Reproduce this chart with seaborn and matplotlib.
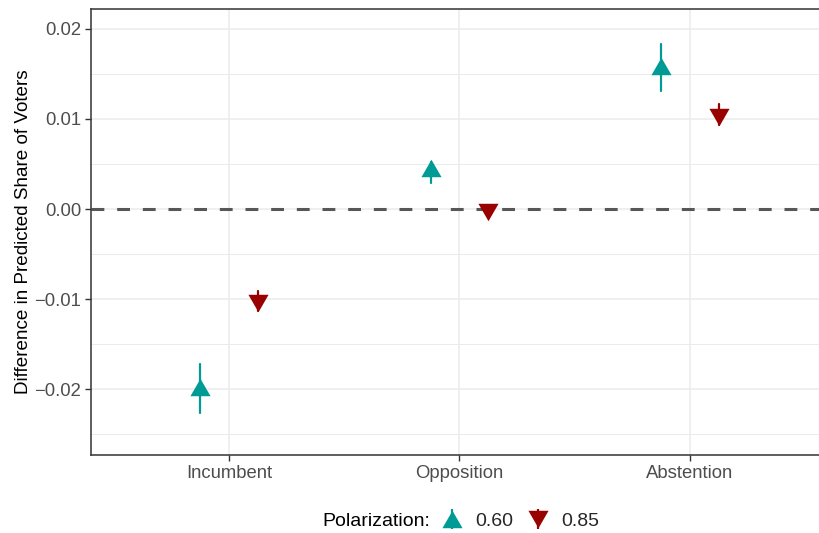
import numpy as np
import pandas as pd
import matplotlib
matplotlib.use("Agg")
import matplotlib.pyplot as plt
from matplotlib.lines import Line2D
from matplotlib.markers import MarkerStyle
from matplotlib.path import Path
from matplotlib.ticker import FixedLocator
import seaborn as sns

# Estimated differences with their interval bounds
outcomes = ["Incumbent", "Opposition", "Abstention"]
polarization = ["0.60", "0.85"]
estimate_060 = [-0.0198, 0.0046, 0.0159]
lower_060 = [-0.0227, 0.0029, 0.0131]
upper_060 = [-0.0172, 0.0052, 0.0183]
estimate_085 = [-0.0104, -0.0003, 0.0102]
lower_085 = [-0.0113, -0.0009, 0.0093]
upper_085 = [-0.0091, 0.0004, 0.0117]
y_ticks = [-0.02, -0.01, 0.00, 0.01, 0.02]
y_minor = [-0.025, -0.015, -0.005, 0.005, 0.015]

colors = {"0.60": "#009B95", "0.85": "#990000"}

# Long table: each group holds lower, estimate, upper so that the median is the
# point estimate and the min/max span is the interval.
rows = []
for pol, est, lo, hi in [("0.60", estimate_060, lower_060, upper_060),
                         ("0.85", estimate_085, lower_085, upper_085)]:
    for cat, e, l, h in zip(outcomes, est, lo, hi):
        for v in (l, e, h):
            rows.append({"outcome": cat, "Polarization": pol, "value": v})
df = pd.DataFrame(rows)

sns.set_style("white")
plt.rcParams["font.family"] = ["Liberation Sans", "DejaVu Sans"]

# Equilateral triangles centred on their bounding box
up_path = Path([(-1, -0.866), (1, -0.866), (0, 0.866), (-1, -0.866)],
               [Path.MOVETO, Path.LINETO, Path.LINETO, Path.CLOSEPOLY])
down_path = Path([(-1, 0.866), (1, 0.866), (0, -0.866), (-1, 0.866)],
                 [Path.MOVETO, Path.LINETO, Path.LINETO, Path.CLOSEPOLY])
tri_up = MarkerStyle(up_path)
tri_down = MarkerStyle(down_path)

fig = plt.figure(figsize=(8.2, 5.33), dpi=100)
ax = fig.add_axes([91 / 820, 1 - 455 / 533, (828 - 91) / 820, (455 - 9) / 533])

# Grid
for y in y_minor:
    ax.axhline(y, color="#EBEBEB", lw=0.7, zorder=0)
for y in y_ticks:
    ax.axhline(y, color="#EBEBEB", lw=1.1, zorder=0)
for i in range(len(outcomes)):
    ax.axvline(i, color="#EBEBEB", lw=1.1, zorder=0)

ax.axhline(0, color="#575757", lw=2.2, linestyle=(0, (4.2, 4.2)), zorder=1)

sns.pointplot(
    data=df, x="outcome", y="value", hue="Polarization",
    order=outcomes, hue_order=polarization, palette=colors,
    estimator="median", errorbar=lambda v: (v.min(), v.max()),
    dodge=0.25, linestyle="none", markers=[tri_up, tri_down],
    markersize=14.5, markeredgewidth=0, err_kws={"linewidth": 1.6},
    legend=False, ax=ax,
)

ax.set_xlim(-0.6, 2.6)
ax.set_ylim(-0.02733, 0.02222)
ax.yaxis.set_major_locator(FixedLocator(y_ticks))
ax.set_yticklabels([f"{t:.2f}".replace("-", "\u2212") for t in y_ticks])
ax.set_xlabel("")
ax.set_ylabel("Difference in Predicted Share of Voters", fontsize=13.6,
              color="black", labelpad=2)
ax.tick_params(axis="both", which="major", length=4, width=1.0,
               color="#333333", labelcolor="#4D4D4D", labelsize=13.3,
               left=True, bottom=True, pad=3)
for side in ["left", "bottom", "top", "right"]:
    ax.spines[side].set_color("#333333")
    ax.spines[side].set_linewidth(1.1)
ax.grid(False)

# Legend along the bottom
fig.text(322 / 820, 1 - 521 / 533, "Polarization:", fontsize=14,
         ha="left", va="center", color="black")
handles = []
for pol, mk in zip(polarization, [tri_up, tri_down]):
    stem = Line2D([], [], color=colors[pol], marker="|", markersize=14,
                  markeredgewidth=1.6, linestyle="none")
    tri = Line2D([], [], color=colors[pol], marker=mk, markersize=14.5,
                 markeredgewidth=0, linestyle="none")
    handles.append((stem, tri))
fig.legend(handles, polarization, loc="center left",
           bbox_to_anchor=(439 / 820, 1 - 521 / 533), ncol=2, frameon=False,
           fontsize=14, handlelength=1.3, handletextpad=0.55,
           columnspacing=0.65, borderaxespad=0, borderpad=0)

fig.savefig("out.png", dpi=100)
